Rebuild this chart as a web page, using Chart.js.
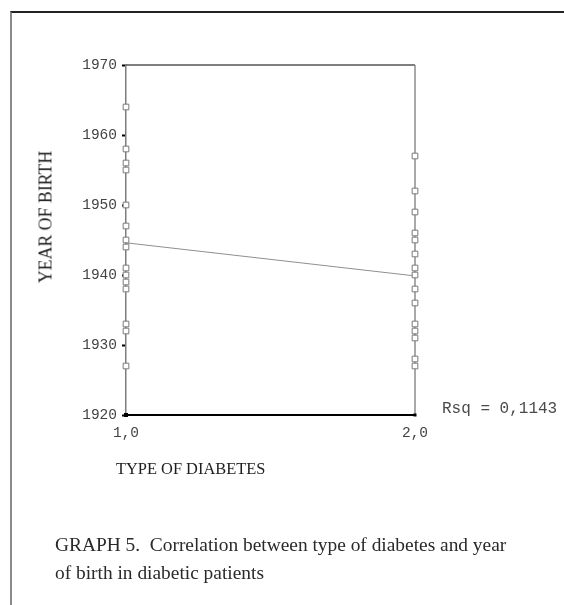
<!DOCTYPE html>
<html>
<head>
<meta charset="utf-8">
<script src="https://cdn.jsdelivr.net/npm/chart.js@4/dist/chart.umd.min.js"></script>
<style>
  html, body { margin: 0; padding: 0; background: #fff; }
  body { width: 564px; height: 605px; position: relative; overflow: hidden; }
  #frame { position: absolute; left: 10px; top: 11px; right: -2px; bottom: -2px;
           border-top: 2px solid #222; border-left: 2px solid #8a8a8a; }
  #wrap { position: absolute; left: 0; top: 0; width: 564px; height: 605px; }
  .serif { font-family: "Liberation Serif", "DejaVu Serif", serif; color: #1e1e1e; position: absolute; white-space: nowrap; }
  #ytitle { left: 46px; top: 217px; font-size: 17.8px; transform: translate(-50%, -50%) rotate(-90deg); }
  #xtitle { left: 116px; top: 459px; font-size: 16.4px; }
  #caption { left: 55px; top: 531px; font-size: 19.4px; line-height: 28px; color: #2a2a2a; }
</style>
</head>
<body>
<div id="frame"></div>
<div id="wrap"><canvas id="chart" width="564" height="605"></canvas></div>
<div class="serif" id="ytitle">YEAR OF BIRTH</div>
<div class="serif" id="xtitle">TYPE OF DIABETES</div>
<div class="serif" id="caption">GRAPH 5.&nbsp; Correlation between type of diabetes and year<br>of birth in diabetic patients</div>
<script>
// Year of birth of the patients in each diabetes group
const type1Years = [1964, 1958, 1956, 1955, 1950, 1947, 1945, 1944, 1941, 1940, 1939, 1938, 1933, 1932, 1927];
const type2Years = [1957, 1952, 1949, 1946, 1945, 1943, 1941, 1940, 1938, 1936, 1933, 1932, 1931, 1928, 1927];
const diabetesTypes = [1, 2];
const xTickLabels = ['1,0', '2,0'];
const yTicks = [1920, 1930, 1940, 1950, 1960, 1970];
const rsqLabel = 'Rsq = 0,1143';

const points = [
  ...type1Years.map(y => ({ x: diabetesTypes[0], y })),
  ...type2Years.map(y => ({ x: diabetesTypes[1], y }))
];

// Least-squares line through the two groups (passes through the group means)
const mean = a => a.reduce((s, v) => s + v, 0) / a.length;
const fitLine = [
  { x: diabetesTypes[0], y: mean(type1Years) },
  { x: diabetesTypes[1], y: mean(type2Years) }
];

const monoFont = { family: '"Liberation Mono", "DejaVu Sans Mono", monospace', size: 14.5 };

// Top and right edges of the plot box plus the R-squared note
const framePlugin = {
  id: 'frame',
  beforeDatasetsDraw(chart) {
    const { ctx, chartArea: a } = chart;
    ctx.save();
    ctx.lineWidth = 1.5;
    ctx.strokeStyle = '#555';
    ctx.beginPath();
    ctx.moveTo(a.left, a.top);
    ctx.lineTo(a.right, a.top);
    ctx.stroke();
    ctx.strokeStyle = '#8c8c8c';
    ctx.beginPath();
    ctx.moveTo(a.right, a.top);
    ctx.lineTo(a.right, a.bottom);
    ctx.stroke();
    ctx.restore();
  },
  afterDraw(chart) {
    const { ctx, chartArea: a, scales } = chart;
    ctx.save();
    ctx.fillStyle = '#000';
    ctx.fillRect(a.left - 2, a.bottom - 2, 4, 4);
    ctx.fillRect(a.right - 1.5, a.bottom - 1.5, 3, 3);
    ctx.font = '16px "Liberation Mono", "DejaVu Sans Mono", monospace';
    ctx.fillStyle = '#4a4a4a';
    ctx.textBaseline = 'middle';
    ctx.textAlign = 'left';
    ctx.fillText(rsqLabel, a.right + 27, scales.y.getPixelForValue(yTicks[0]) - 6);
    ctx.restore();
  }
};

new Chart(document.getElementById('chart'), {
  type: 'scatter',
  data: {
    datasets: [
      {
        type: 'line',
        data: fitLine,
        borderColor: '#8f8f8f',
        borderWidth: 1,
        pointRadius: 0,
        fill: false,
        order: 2
      },
      {
        data: points,
        pointStyle: 'rect',
        pointRadius: 4,
        pointBorderWidth: 1,
        pointBorderColor: '#7a7a7a',
        pointBackgroundColor: '#fff',
        clip: false,
        order: 1
      }
    ]
  },
  plugins: [framePlugin],
  options: {
    responsive: false,
    animation: false,
    events: [],
    layout: { padding: { left: 0, top: 65, right: 149, bottom: 160 } },
    plugins: { legend: { display: false }, tooltip: { enabled: false } },
    scales: {
      x: {
        type: 'linear',
        min: diabetesTypes[0],
        max: diabetesTypes[1],
        afterBuildTicks(scale) { scale.ticks = diabetesTypes.map(v => ({ value: v })); },
        afterFit(scale) { scale.height = 30; },
        grid: { display: false, drawTicks: false },
        border: { display: true, color: '#000', width: 2 },
        ticks: {
          padding: 9,
          color: '#444',
          font: monoFont,
          callback: (v, i) => xTickLabels[i]
        }
      },
      y: {
        type: 'linear',
        min: yTicks[0],
        max: yTicks[yTicks.length - 1],
        afterBuildTicks(scale) { scale.ticks = yTicks.map(v => ({ value: v })); },
        afterFit(scale) { scale.width = 126; },
        grid: { display: true, drawOnChartArea: false, drawTicks: true, tickLength: 4, tickWidth: 2, tickColor: '#000', color: '#000' },
        border: { display: true, color: '#7d7d7d', width: 1.5 },
        ticks: {
          padding: 5,
          color: '#444',
          font: monoFont,
          callback: v => String(v)
        }
      }
    }
  }
});
</script>
</body>
</html>
